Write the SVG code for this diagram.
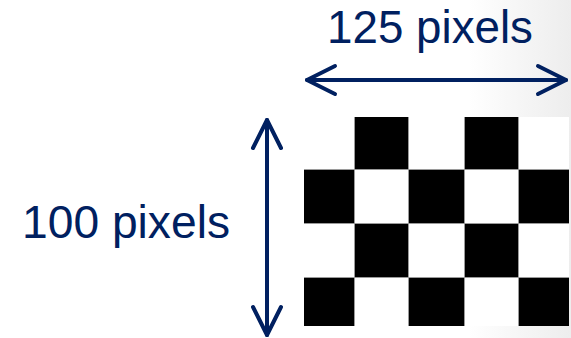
<svg xmlns="http://www.w3.org/2000/svg" width="571" height="338" viewBox="0 0 571 338">
  <defs>
    <linearGradient id="bg" x1="0" y1="0" x2="1" y2="0">
      <stop offset="0" stop-color="#ffffff"/>
      <stop offset="0.82" stop-color="#ffffff"/>
      <stop offset="1" stop-color="#ededed"/>
    </linearGradient>
    <marker id="chev" markerUnits="userSpaceOnUse" markerWidth="40" markerHeight="40" viewBox="0 0 40 40" refX="36" refY="20" orient="auto-start-reverse" overflow="visible">
      <path d="M8 6 L36 20 L8 34" fill="none" stroke="#002060" stroke-width="4" stroke-linecap="round" stroke-linejoin="round"/>
    </marker>
  </defs>
  <style>
    .lbl { font-family: "Liberation Sans", Arial, sans-serif; font-size: 46px; fill: #002060; }
    .conn { stroke: #002060; stroke-width: 4; fill: none; stroke-linecap: round; }
    .blk { fill: #000000; }
    .grid { stroke: #9a9a9a; stroke-width: 1; fill: none; }
  </style>
  <rect x="0" y="0" width="571" height="338" fill="url(#bg)"/>

  <g id="checkerboard">
    <rect x="304" y="117" width="265" height="209" fill="#ffffff"/>
    <!-- row 0 -->
    <rect class="blk" x="354" y="117" width="54" height="52"/>
    <rect class="blk" x="464" y="117" width="54" height="52"/>
    <!-- row 1 -->
    <rect class="blk" x="304" y="169" width="50" height="54"/>
    <rect class="blk" x="408" y="169" width="56" height="54"/>
    <rect class="blk" x="518" y="169" width="51" height="54"/>
    <!-- row 2 -->
    <rect class="blk" x="354" y="223" width="54" height="54"/>
    <rect class="blk" x="464" y="223" width="54" height="54"/>
    <!-- row 3 -->
    <rect class="blk" x="304" y="277" width="50" height="49"/>
    <rect class="blk" x="408" y="277" width="56" height="49"/>
    <rect class="blk" x="518" y="277" width="51" height="49"/>
    <path class="grid" d="M354.5 117V326 M408.5 117V326 M464.5 117V326 M518.5 117V326 M304 169.5H569 M304 223.5H569 M304 277.5H569"/>
  </g>

  <g id="connectors">
    <line class="conn" x1="307" y1="80" x2="566" y2="80" marker-start="url(#chev)" marker-end="url(#chev)"/>
    <line class="conn" x1="267" y1="120" x2="267" y2="335" marker-start="url(#chev)" marker-end="url(#chev)"/>
  </g>

  <g id="label-width">
    <text class="lbl" x="327" y="43" textLength="206" lengthAdjust="spacingAndGlyphs">125 pixels</text>
  </g>
  <g id="label-height">
    <text class="lbl" x="22" y="238" textLength="208" lengthAdjust="spacingAndGlyphs">100 pixels</text>
  </g>
</svg>
